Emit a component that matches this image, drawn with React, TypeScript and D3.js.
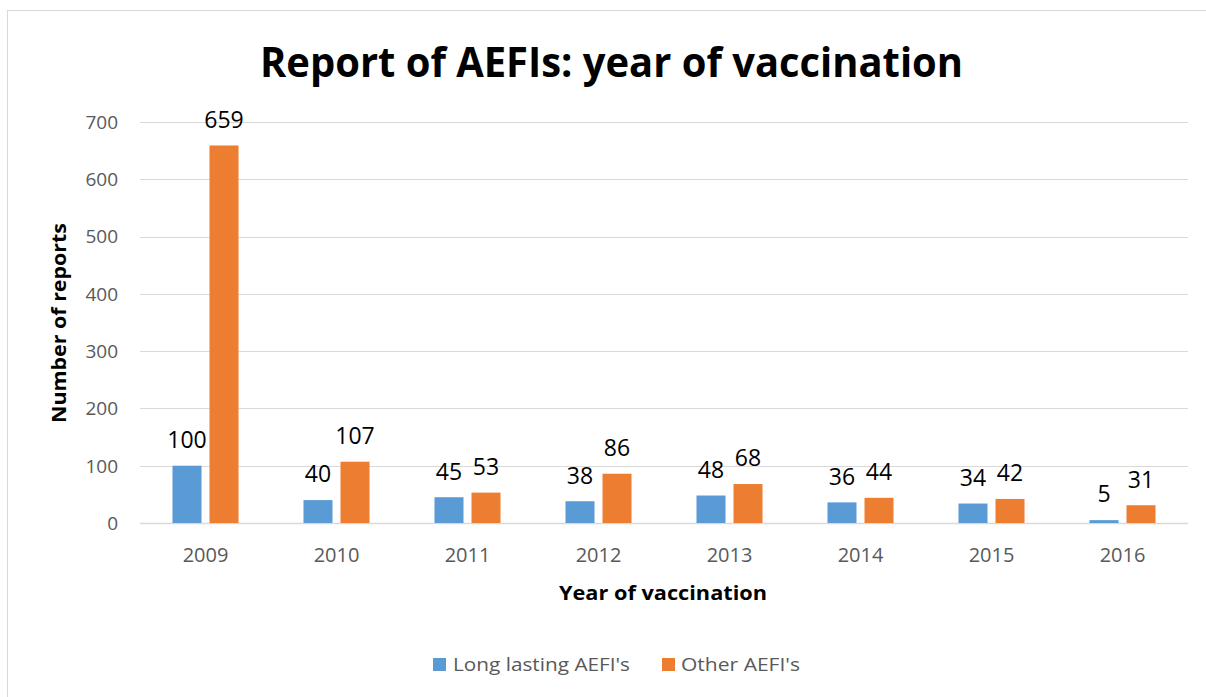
import React from "react";
import * as d3 from "d3";

const years = ["2009", "2010", "2011", "2012", "2013", "2014", "2015", "2016"];
const longLasting = [100, 40, 45, 38, 48, 36, 34, 5];
const otherAefi = [659, 107, 53, 86, 68, 44, 42, 31];
const seriesNames = ["Long lasting AEFI's", "Other AEFI's"];
const seriesColors = ["#5B9BD5", "#ED7D31"];
const yTicks = [0, 100, 200, 300, 400, 500, 600, 700];

const W = 1206;
const H = 697;
const left = 140;
const right = 1188;
const top = 122;
const bottom = 523;
const FONT = "'Open Sans', Lato, sans-serif";

export default function App() {
  const x0 = d3.scaleBand<string>().domain(years).range([left, right]).paddingInner(0.496).paddingOuter(0.248);
  const x1 = d3.scaleBand<string>().domain(["a", "b"]).range([0, x0.bandwidth()]).paddingInner(0.216).paddingOuter(0);
  const y = d3.scaleLinear().domain([0, 700]).range([bottom, top]);
  const series = [longLasting, otherAefi];
  const keys = ["a", "b"];

  return (
    <svg width={W} height={H} style={{ position: "absolute", left: 0, top: 0, background: "#fff" }} fontFamily={FONT}>
      <rect x={7.5} y={10.5} width={1220} height={720} fill="#fff" stroke="#d9d9d9" strokeWidth={1} />
      <text x={260} y={77} fontSize={41} fontWeight="bold" fill="#000" textLength={703} lengthAdjust="spacingAndGlyphs">
        Report of AEFIs: year of vaccination
      </text>
      {yTicks.map((t) => (
        <g key={t}>
          <line x1={left} x2={right} y1={Math.round(y(t)) + 0.5} y2={Math.round(y(t)) + 0.5} stroke="#d9d9d9" strokeWidth={t === 0 ? 1.5 : 1} />
          <text x={118} y={y(t)} dy="0.36em" textAnchor="end" fontSize={19} fill="#595959">
            {t}
          </text>
        </g>
      ))}
      {years.map((yr, i) => (
        <g key={yr}>
          {series.map((s, j) => {
            const bx = (x0(yr) as number) + (x1(keys[j]) as number);
            const bw = x1.bandwidth();
            return (
              <g key={j}>
                <rect x={bx} y={y(s[i])} width={bw} height={bottom - y(s[i])} fill={seriesColors[j]} />
                <text x={bx + bw / 2} y={y(s[i]) - 26} dy="0.36em" textAnchor="middle" fontSize={23} fill="#000">
                  {s[i]}
                </text>
              </g>
            );
          })}
          <text x={(x0(yr) as number) + x0.bandwidth() / 2} y={555} dy="0.36em" textAnchor="middle" fontSize={20} fill="#595959">
            {yr}
          </text>
        </g>
      ))}
      <text x={559} y={600} fontSize={20} fontWeight="bold" fill="#000" textLength={208} lengthAdjust="spacingAndGlyphs">
        Year of vaccination
      </text>
      <text transform={`translate(66,423) rotate(-90)`} fontSize={20} fontWeight="bold" fill="#000" textLength={200} lengthAdjust="spacingAndGlyphs">
        Number of reports
      </text>
      <g>
        <rect x={433} y={658} width={13} height={13} fill={seriesColors[0]} />
        <text x={453} y={671} fontSize={19} fill="#595959" textLength={177} lengthAdjust="spacingAndGlyphs">{seriesNames[0]}</text>
        <rect x={662} y={658} width={13} height={13} fill={seriesColors[1]} />
        <text x={681} y={671} fontSize={19} fill="#595959" textLength={119} lengthAdjust="spacingAndGlyphs">{seriesNames[1]}</text>
      </g>
    </svg>
  );
}
